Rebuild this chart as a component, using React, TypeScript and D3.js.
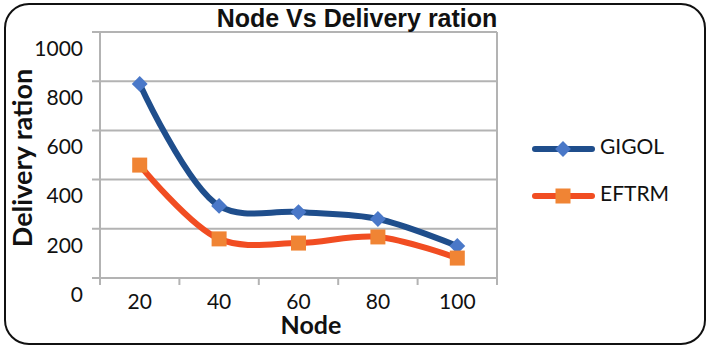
import React from "react";
import * as d3 from "d3";

const categories = ["20", "40", "60", "80", "100"];
const gigol = [789, 293, 268, 240, 130];
const eftrm = [459, 159, 142, 167, 81];
const yTicks = [0, 200, 400, 600, 800, 1000];
const seriesNames = ["GIGOL", "EFTRM"];

const W = 709;
const H = 349;
const M = { left: 100, right: 497, top: 32, bottom: 278 };

const GIGOL_LINE = "#1F4E8C";
const GIGOL_MARK = "#4A78C8";
const EFTRM_LINE = "#F14D22";
const EFTRM_MARK = "#F08434";
const GRID = "#B3B3B3";
const FONT = "Lato, Calibri, 'Open Sans', sans-serif";

export default function App() {
  const x = d3.scaleBand<string>().domain(categories).range([M.left, M.right]).padding(0);
  const y = d3.scaleLinear().domain([0, 1000]).range([M.bottom, M.top]);
  const cx = (c: string) => (x(c) as number) + x.bandwidth() / 2;

  const line = d3
    .line<number>()
    .x((_, i) => cx(categories[i]))
    .y((d) => y(d))
    .curve(d3.curveCatmullRom.alpha(0.5));

  const boundaries = [...categories.map((c) => x(c) as number), M.right];
  const diamond = d3.symbol().type(d3.symbolDiamond2).size(160)();

  const legendY = [149, 196];
  const legendColors = [
    [GIGOL_LINE, GIGOL_MARK],
    [EFTRM_LINE, EFTRM_MARK],
  ];

  return (
    <svg
      width={W}
      height={H}
      style={{ position: "absolute", left: 0, top: 0, background: "#fff" }}
    >
      <rect x={5} y={4} width={700} height={340} rx={24} ry={24} fill="#fff" stroke="#111" strokeWidth={2} />

      {/* grid */}
      {yTicks.map((t) => (
        <line key={"g" + t} x1={M.left - 8} x2={M.right} y1={y(t)} y2={y(t)} stroke={GRID} strokeWidth={2} />
      ))}
      <line x1={M.left} x2={M.left} y1={M.top} y2={M.bottom} stroke={GRID} strokeWidth={2} />
      <line x1={M.right} x2={M.right} y1={M.top} y2={M.bottom} stroke={GRID} strokeWidth={2} />
      {boundaries.map((b, i) => (
        <line key={"xt" + i} x1={b} x2={b} y1={M.bottom} y2={M.bottom + 7} stroke={GRID} strokeWidth={2} />
      ))}

      {/* y tick labels */}
      {yTicks.map((t) => (
        <text
          key={"yl" + t}
          x={83}
          y={y(t) + 18.5}
          textAnchor="end"
          dominantBaseline="middle"
          fontFamily={FONT}
          fontSize={21}
          fill="#111"
        >
          {t}
        </text>
      ))}

      {/* x tick labels */}
      {categories.map((c) => (
        <text
          key={"xl" + c}
          x={cx(c)}
          y={304}
          textAnchor="middle"
          dominantBaseline="middle"
          fontFamily={FONT}
          fontSize={21}
          fill="#111"
        >
          {c}
        </text>
      ))}

      {/* lines */}
      <path d={line(gigol) || ""} fill="none" stroke={GIGOL_LINE} strokeWidth={6} strokeLinecap="round" />
      <path d={line(eftrm) || ""} fill="none" stroke={EFTRM_LINE} strokeWidth={6} strokeLinecap="round" />

      {gigol.map((v, i) => (
        <path key={"gm" + i} d={diamond || ""} transform={`translate(${cx(categories[i])},${y(v)})`} fill={GIGOL_MARK} />
      ))}
      {eftrm.map((v, i) => (
        <rect key={"em" + i} x={cx(categories[i]) - 7.5} y={y(v) - 7.5} width={15} height={15} fill={EFTRM_MARK} />
      ))}

      {/* title */}
      <text x={357} y={27} textAnchor="middle" fontFamily="'Liberation Sans', Arial, sans-serif" fontWeight="bold" fontSize={25} fill="#111">
        Node Vs Delivery ration
      </text>
      <text
        transform={`translate(32,158) rotate(-90)`}
        textAnchor="middle"
        fontFamily={FONT}
        fontWeight="bold"
        fontSize={27}
        fill="#111"
      >
        Delivery ration
      </text>
      <text x={311} y={334} textAnchor="middle" fontFamily={FONT} fontWeight="bold" fontSize={25} fill="#111">
        Node
      </text>

      {/* legend */}
      {seriesNames.map((n, i) => (
        <g key={"lg" + n}>
          <line x1={535} x2={592} y1={legendY[i]} y2={legendY[i]} stroke={legendColors[i][0]} strokeWidth={6} strokeLinecap="round" />
          {i === 0 ? (
            <path d={diamond || ""} transform={`translate(563,${legendY[i]})`} fill={legendColors[i][1]} />
          ) : (
            <rect x={563 - 7.5} y={legendY[i] - 7.5} width={15} height={15} fill={legendColors[i][1]} />
          )}
          <text x={600} y={legendY[i]} dominantBaseline="middle" fontFamily={FONT} fontSize={21} fill="#111">
            {n}
          </text>
        </g>
      ))}
    </svg>
  );
}
